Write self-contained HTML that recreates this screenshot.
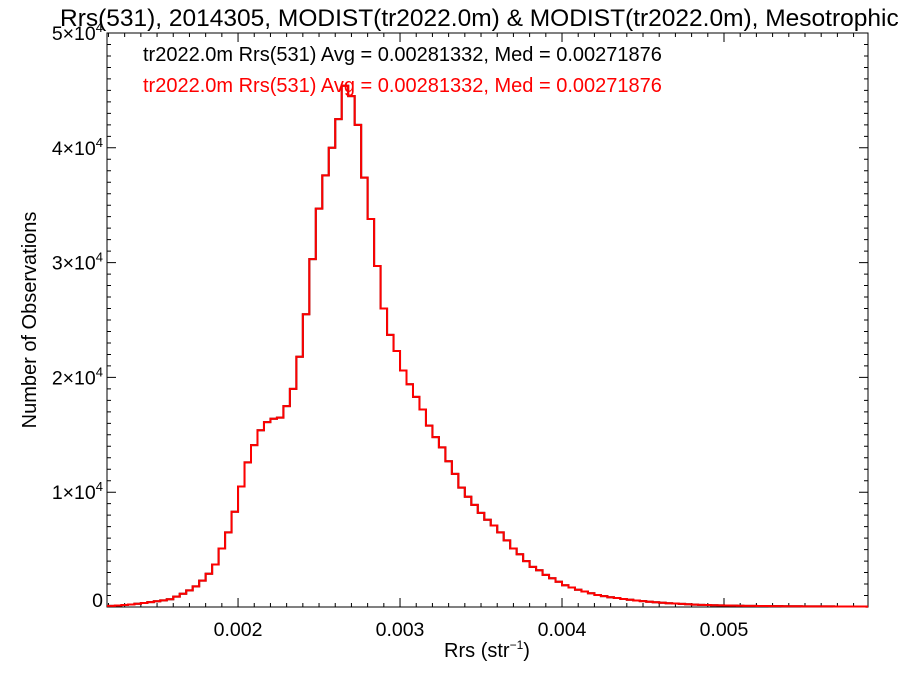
<!DOCTYPE html>
<html><head><meta charset="utf-8"><style>
html,body{margin:0;padding:0;background:#fff;overflow:hidden;}
svg{display:block;font-family:"Liberation Sans",sans-serif;}
</style></head><body>
<svg id="chart" width="900" height="675" viewBox="0 0 900 675" xmlns="http://www.w3.org/2000/svg">
<text x="60" y="26" font-size="24.5" fill="#000">Rrs(531), 2014305, MODIST(tr2022.0m) &amp; MODIST(tr2022.0m), Mesotrophic</text>
<g id="axes"></g>
<g id="series"></g>
<text x="143" y="61" font-size="20" fill="#000">tr2022.0m Rrs(531) Avg = 0.00281332, Med = 0.00271876</text>
<text x="143" y="92" font-size="20" fill="#ff0000">tr2022.0m Rrs(531) Avg = 0.00281332, Med = 0.00271876</text>
<text transform="translate(36,320) rotate(-90)" text-anchor="middle" font-size="20" fill="#000">Number of Observations</text>
<text x="487" y="657" text-anchor="middle" font-size="20" fill="#000">Rrs (str<tspan font-size="12" dy="-8">−1</tspan><tspan dy="8">)</tspan></text>
</svg>
<script>
const binStart = 0.0012;
const binWidth = 0.00004;
const counts = [100,130,170,220,280,350,420,500,580,680,
900,1150,1450,1800,2300,2900,3700,5100,6500,8300,
10500,12600,14100,15400,16100,16400,16500,17500,19000,21800,
25500,30300,34700,37600,40000,42500,45400,44500,42000,37400,
33800,29700,26000,23700,22300,20600,19400,18300,17200,15800,
14800,13900,12700,11600,10400,9600,8900,8200,7600,7100,
6500,5800,5100,4600,4000,3500,3200,2800,2500,2200,
1900,1700,1500,1350,1200,1050,950,850,780,700,
630,570,510,460,410,370,330,300,270,240,
210,190,170,155,140,130,120,110,100,95,
90,85,80,75,70,65,60,58,56,54,52,50,48,46,44,42,40,38];
const xTicks = [0.002,0.003,0.004,0.005];
const xTickLabels = ["0.002","0.003","0.004","0.005"];
const yTicks = [0,10000,20000,30000,40000,50000];
const yTickMant = ["0","1","2","3","4","5"];

const L=107,R=868,T=33,B=607;
const xMin=0.001191,xMax=0.005889,yMin=0,yMax=50000;
const sx=v=>L+(v-xMin)/(xMax-xMin)*(R-L);
const sy=v=>B-(v-yMin)/(yMax-yMin)*(B-T);
const NS="http://www.w3.org/2000/svg";
const mk=(t,a,p)=>{const e=document.createElementNS(NS,t);for(const k in a)e.setAttribute(k,a[k]);p.appendChild(e);return e;};
const axes=document.getElementById('axes');
const frame=mk('rect',{x:L,y:T,width:R-L,height:B-T,fill:'none',stroke:'#000','stroke-width':1},axes);


let d='';
for(let v=0.0012;v<xMax;v+=0.0001){const x=sx(v);const major=Math.abs(Math.round(v*1000)-v*1000)<1e-6;const len=major?9:4;
d+=`M${x},${B}v${-len}M${x},${T}v${len}`;}
for(let v=0;v<=yMax+1;v+=1000){const y=sy(v);const major=v%10000===0;const len=major?9:4;
d+=`M${L},${y}h${len}M${R},${y}h${-len}`;}
const tk=mk('path',{d:d,stroke:'#000','stroke-width':1,fill:'none'},axes);


xTicks.forEach((v,i)=>{const t=mk('text',{x:sx(v),y:B+29,'text-anchor':'middle','font-size':19.5},axes);t.textContent=xTickLabels[i];

});
yTicks.forEach((v,i)=>{const t=mk('text',{x:L-4,y:sy(v)+(v===0?0:7),'text-anchor':'end','font-size':19.5},axes);


if(v===0){t.textContent='0';}else{t.innerHTML=yTickMant[i]+'×10<tspan font-size="13" dy="-8">4</tspan>';}});
const ser=document.getElementById('series');
let p=`M${L},${sy(counts[0])}`;
counts.forEach((c,i)=>{const x0=Math.max(L,sx(binStart+i*binWidth)),x1=Math.min(R,sx(binStart+(i+1)*binWidth));
p+=`L${x0},${sy(c)}L${x1},${sy(c)}`;});
const blk=mk('path',{d:p,fill:'none',stroke:'#000','stroke-width':2},ser);


const red=mk('path',{d:p,fill:'none',stroke:'#ff0000','stroke-width':2},ser);


</script>
</body></html>
